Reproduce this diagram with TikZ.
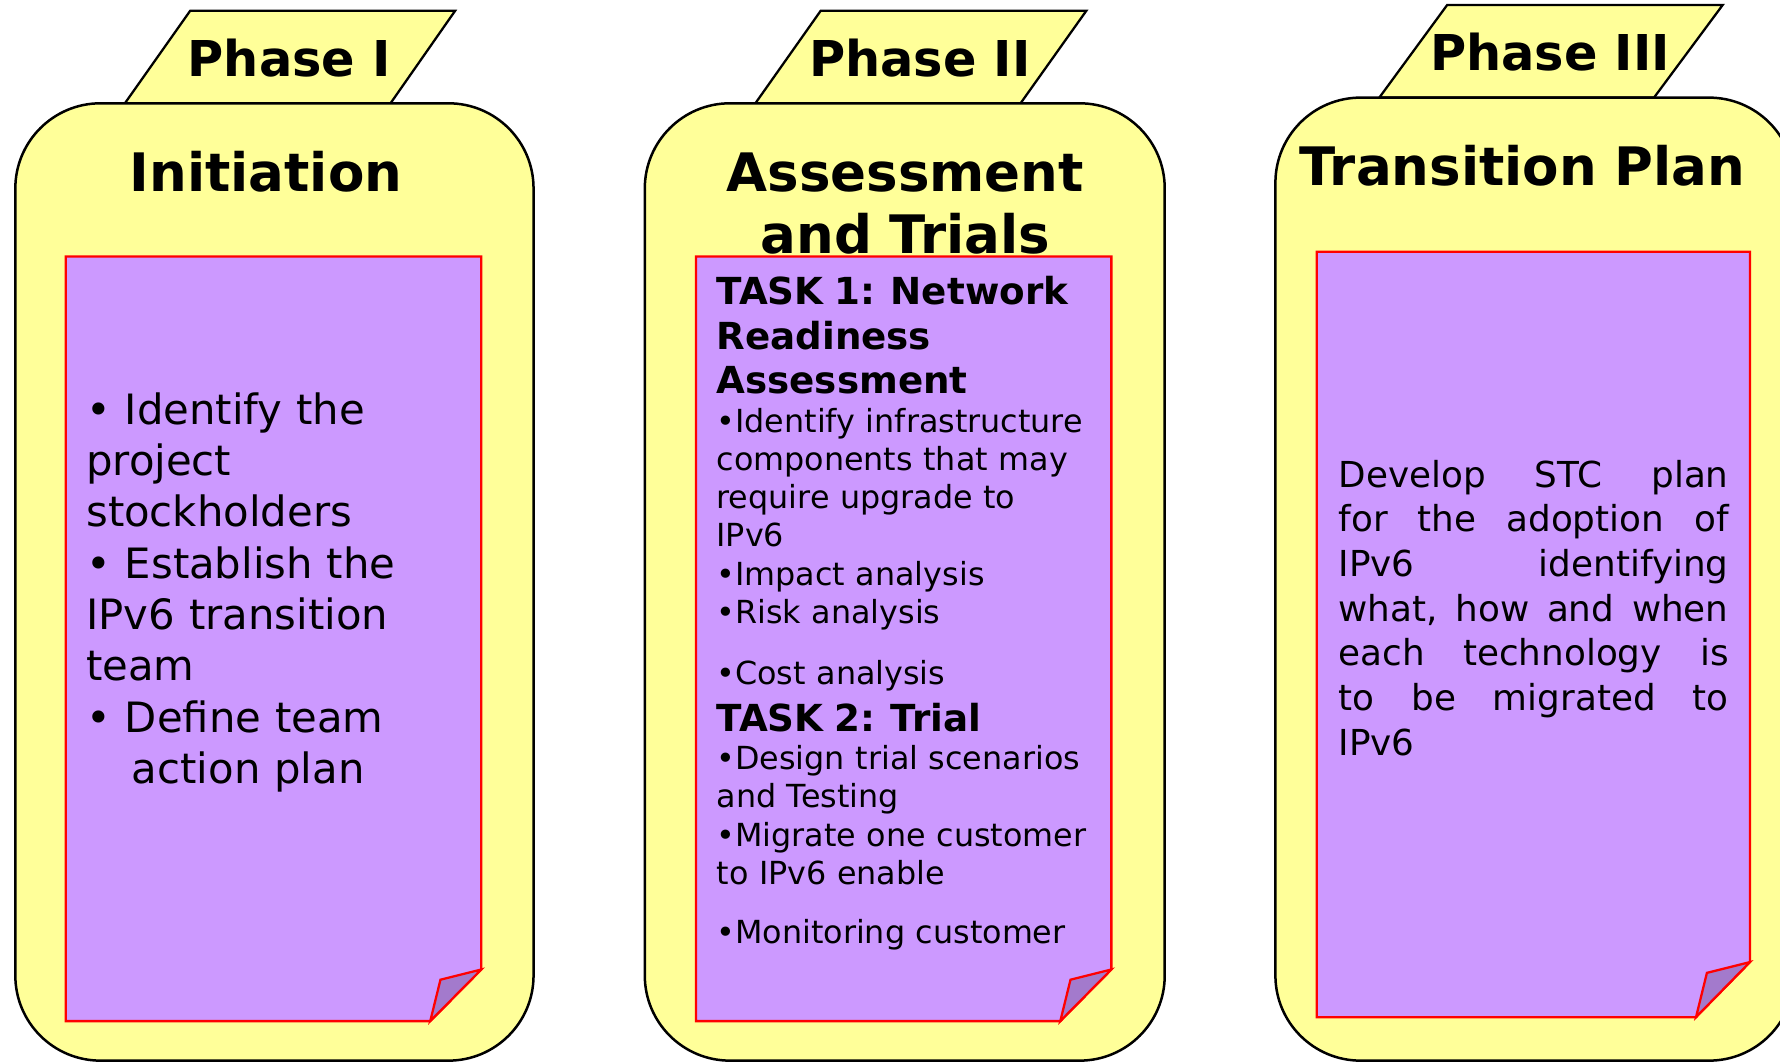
\documentclass[tikz,border=0pt]{standalone}
\usepackage{fontspec}
\setmainfont{DejaVu Sans}
\definecolor{panelY}{HTML}{FFFF99}
\definecolor{noteP}{HTML}{CC99FF}
\definecolor{flapP}{HTML}{A37ACC}
\newcommand\bodyA{\fontsize{36.8}{45.2}\selectfont}
\newcommand\bodyB{\fontsize{28}{33.7}\selectfont}
\newcommand\headB{\fontsize{32.8}{39.5}\selectfont\bfseries}
\newcommand\bodyC{\fontsize{31.5}{39.3}\selectfont}
\newcommand\jline[1]{\makebox[343.5pt][l]{#1}}
\begin{document}
\begin{tikzpicture}[x=1pt,y=-1pt,
  panelbox/.style={draw=black,line width=2.2pt,fill=panelY,rounded corners=75pt},
  tabshape/.style={draw=black,line width=2pt,fill=panelY,line join=miter},
  notebox/.style={draw=red,line width=2pt,fill=noteP,line join=miter},
  flapshape/.style={draw=red,line width=2pt,fill=flapP,line join=miter},
  phaselbl/.style={font=\fontsize{43.5}{52}\selectfont\bfseries,inner sep=0pt,anchor=base},
  ttl/.style={font=\fontsize{46.7}{54.4}\selectfont\bfseries,inner sep=0pt,anchor=base,text width=440pt},
  bodytext/.style={inner sep=0pt,anchor=base west}]
\useasboundingbox (0,0) rectangle (1568,935.5);

% ---------- Phase I ----------
\draw[tabshape] (110,91) -- (167.6,9.4) -- (401,9.4) -- (344,91) -- cycle;
\draw[panelbox] (13.5,91) rectangle (470,934.3);
\node[phaselbl] (ph1) at (254.8,67.5) {Phase I};
\node[ttl] (t1) at (234.3,168.8) {\centering Initiation\par};
\draw[notebox] (58,226) -- (424,226) -- (424,854) -- (379,899.5) -- (58,899.5) -- cycle;
\draw[flapshape] (424,854) -- (388,863) -- (379,899.5) -- cycle;
\node[bodytext,text width=345pt,font=\bodyA] (b1) at (75.8,373.8) {\raggedright
• Identify the\\
project\\
stockholders\\
• Establish the\\
IPv6 transition\\
team\\
• Define team\\
\hspace*{40.2pt}action plan\par};

% ---------- Phase II ----------
\draw[tabshape] (665.4,91) -- (723,9.4) -- (957,9.4) -- (899,91) -- cycle;
\draw[panelbox] (568,91) rectangle (1026,934.3);
\node[phaselbl] (ph2) at (810.3,67.5) {Phase II};
\node[ttl] (t2) at (797.5,168.8) {\centering Assessment\\and Trials\par};
\draw[notebox] (613,226) -- (979,226) -- (979,854) -- (934,899.5) -- (613,899.5) -- cycle;
\draw[flapshape] (979,854) -- (943,863) -- (934,899.5) -- cycle;
\node[bodytext,text width=345pt,font=\bodyB] (b2) at (631,268) {\raggedright
{\headB TASK 1: Network\\ Readiness\\ Assessment\par}
{\bodyB •Identify infrastructure\\ components that may\\ require upgrade to\\ IPv6\par}
{\bodyB •Impact analysis\par}
{\bodyB •Risk analysis\par}
\vspace{19.8pt}
{\bodyB •Cost analysis\par}
\vspace{2pt}
{\headB TASK 2: Trial\par}
{\bodyB •Design trial scenarios\\ and Testing\par}
{\bodyB •Migrate one customer\\ to IPv6 enable\par}
\vspace{18.3pt}
{\bodyB •Monitoring customer\par}};

% ---------- Phase III ----------
\draw[tabshape] (1215,86) -- (1274.8,4.4) -- (1517.5,4.4) -- (1457,86) -- cycle;
\draw[panelbox] (1123.5,86) rectangle (1580.5,934.3);
\node[phaselbl] (ph3) at (1365.5,62.5) {Phase III};
\node[ttl] (t3) at (1341,163) {\centering Transition Plan\par};
\draw[notebox] (1160,221.7) -- (1541.5,221.7) -- (1541.5,847.5) -- (1494,896) -- (1160,896) -- cycle;
\draw[flapshape] (1541.5,847.5) -- (1503.6,857) -- (1494,896) -- cycle;
\node[bodytext,text width=343.5pt,font=\bodyC] (b3) at (1179,429.3) {%
\jline{Develop\hfill STC\hfill plan}\\
\jline{for\hfill the\hfill adoption\hfill of}\\
\jline{IPv6\hfill identifying}\\
\jline{what,\hfill how\hfill and\hfill when}\\
\jline{each\hfill technology\hfill is}\\
\jline{to\hfill be\hfill migrated\hfill to}\\
IPv6\par};
\end{tikzpicture}
\end{document}
